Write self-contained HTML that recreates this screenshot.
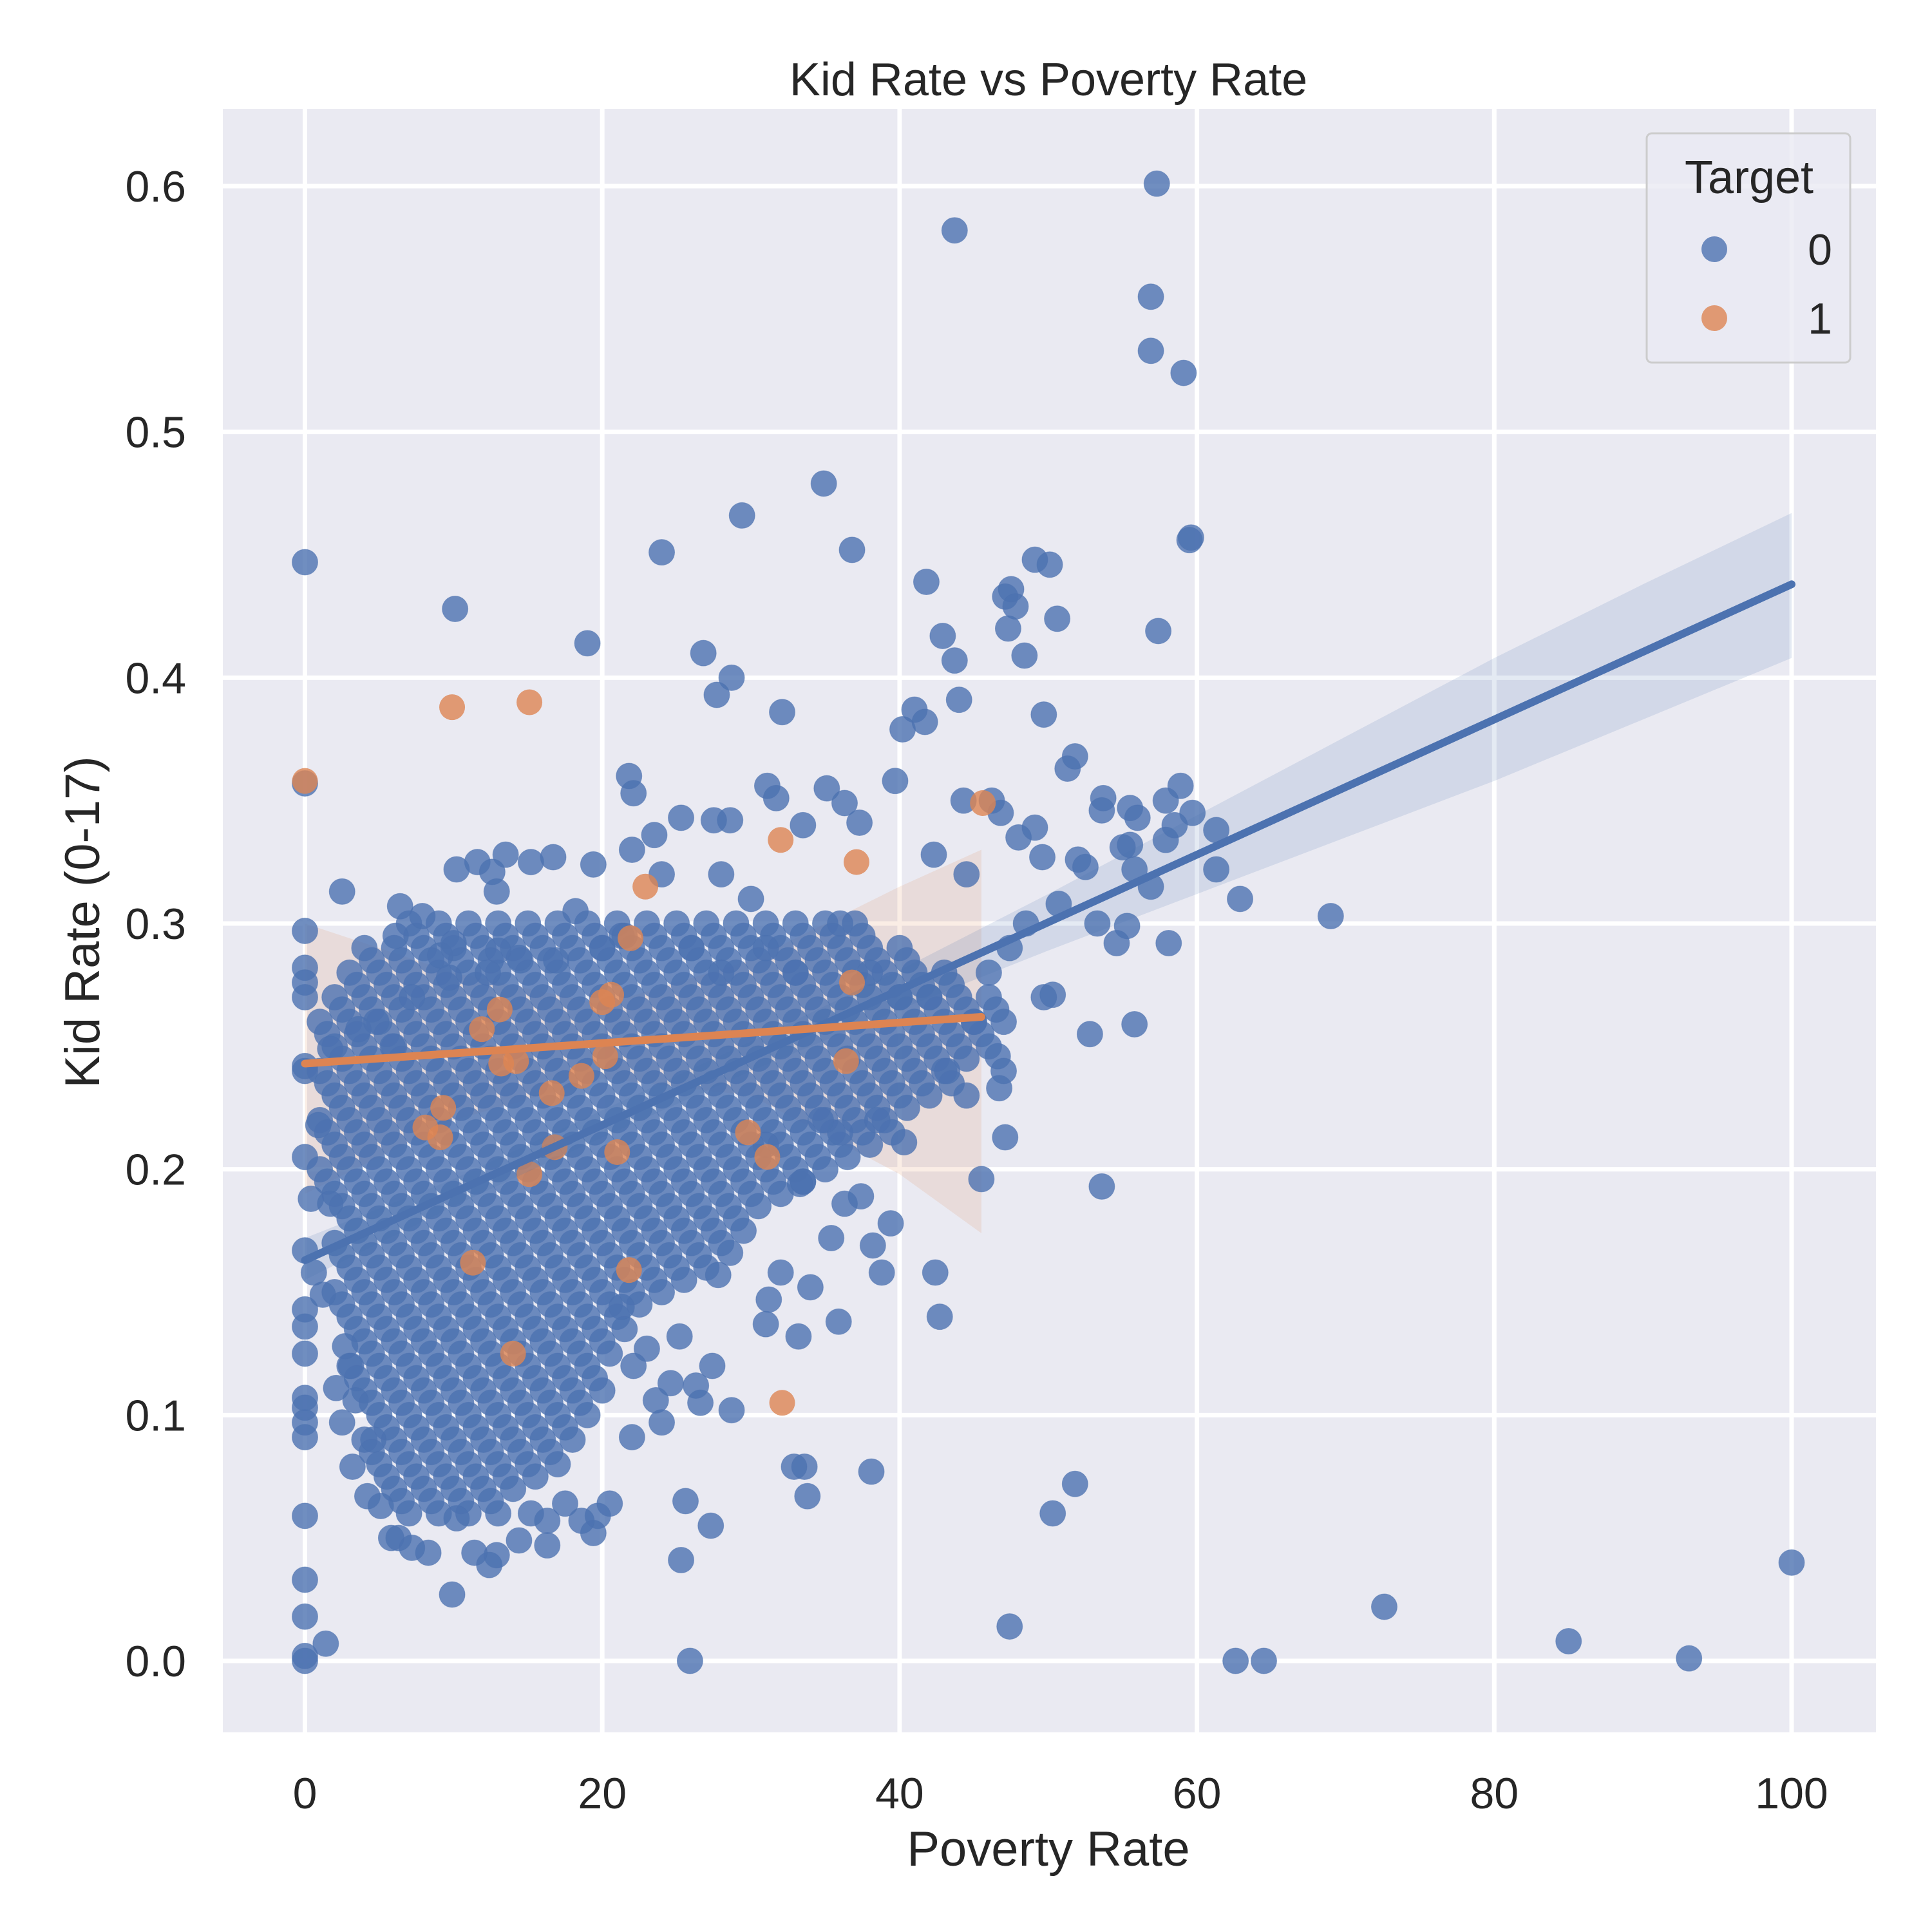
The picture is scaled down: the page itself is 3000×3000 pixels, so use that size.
<!DOCTYPE html>
<html><head><meta charset="utf-8">
<style>
html,body{margin:0;padding:0;background:#fff;}
svg{display:block;font-family:"Liberation Sans",Arial,sans-serif;}
</style></head>
<body>
<svg id="chart" width="3000" height="3000" viewBox="0 0 3000 3000" xmlns="http://www.w3.org/2000/svg">
<rect x="0" y="0" width="3000" height="3000" fill="#ffffff"/>
<rect x="346" y="169" width="2567" height="2521" fill="#eaeaf2"/>
<g id="grid"></g>
<g id="bands"></g>
<g id="pts0"></g>
<g id="pts1"></g>
<g id="lines"></g>
<g id="ticks"></g>
<text x="1628" y="148" font-size="72" fill="#262626" text-anchor="middle">Kid Rate vs Poverty Rate</text>
<text x="1628" y="2897" font-size="76" fill="#262626" text-anchor="middle">Poverty Rate</text>
<text x="0" y="0" font-size="76" fill="#262626" text-anchor="middle" transform="translate(154,1432) rotate(-90)">Kid Rate (0-17)</text>
<g>
<rect x="2557" y="207" width="316" height="356" rx="8" fill="#eaeaf2" fill-opacity="0.8" stroke="#cccccc" stroke-width="3"/>
<text x="2716" y="300" font-size="72" fill="#262626" text-anchor="middle">Target</text>
<circle cx="2662" cy="387" r="20" fill="#4c72b0" fill-opacity="0.8"/>
<text x="2845" y="411" font-size="68" fill="#262626" text-anchor="end">0</text>
<circle cx="2662" cy="494" r="20" fill="#dd8452" fill-opacity="0.8"/>
<text x="2845" y="518" font-size="68" fill="#262626" text-anchor="end">1</text>
</g>
</svg>
<script>
const xTicks = [0, 20, 40, 60, 80, 100];
const yTicks = [0.0, 0.1, 0.2, 0.3, 0.4, 0.5, 0.6];
const yTickLabels = ["0.0", "0.1", "0.2", "0.3", "0.4", "0.5", "0.6"];

// Series 0 (blue) individual points [x, y]
const series0 = [
[0,0.447],[0,0.357],[0,0.297],[0,0.282],[0,0.276],[0,0.27],[0,0.242],[0,0.24],[0,0.205],[0,0.167],[0,0.143],[0,0.136],[0,0.125],[0,0.107],[0,0.103],[0,0.097],[0,0.091],[0,0.059],[0,0.033],[0,0.018],[0,0.002],[0,0],[1.4,0.007],
[10.1,0.428],[19,0.414],[24,0.451],[29.4,0.466],[34.9,0.479],[36.8,0.452],[26.8,0.41],[28.7,0.4],[27.7,0.393],[32.1,0.386],[43.7,0.582],[57.3,0.601],[56.9,0.555],[56.9,0.533],[59.1,0.524],[59.6,0.457],[59.5,0.456],[41.8,0.439],[42.9,0.417],[43.7,0.407],[44,0.391],[41,0.387],[40.2,0.379],[41.7,0.382],[47.1,0.433],[47.5,0.436],[47.8,0.429],[49.1,0.448],[50.1,0.446],[50.6,0.424],[47.3,0.42],[48.4,0.409],[57.4,0.419],[49.7,0.385],[51.3,0.363],[51.8,0.368],[53.7,0.351],[53.6,0.346],[55.5,0.347],[56,0.343],[57.9,0.35],[58.9,0.356],[59.7,0.345],[58.5,0.34],[57.9,0.334],[61.3,0.338],[61.3,0.322],[62.9,0.31],[69,0.303],[58.1,0.292],[55.8,0.259],[52.8,0.255],[53.6,0.193],[51.8,0.072],[50.3,0.06],[47.4,0.014],[62.6,0],[64.5,0],[72.6,0.022],[85,0.008],[93.1,0.001],[100,0.04],[25.9,0],[25.3,0.041],[25.6,0.065],[27.3,0.055],[38.1,0.077],[32.9,0.079],[33.6,0.079],[33.8,0.067],[9.9,0.027],[35.9,0.138],[42.4,0.158],[42.7,0.14],[38.8,0.158],[39.4,0.178],[38.2,0.169],[37.4,0.189],[35.4,0.172],[33.3,0.194],[33.5,0.195],[34,0.152],[33.2,0.132],[36.3,0.186],[45.5,0.196],[47.1,0.213],[46.7,0.233],[46.6,0.246],[47,0.24],[49.7,0.27],[50.3,0.271],[54.6,0.292],[55.3,0.299],[53.3,0.3],[56.9,0.315],[55.8,0.322],[55,0.331],[55.5,0.332],[52,0.326],[52.5,0.323],[50.7,0.308],[49.1,0.339],[49.6,0.327],[48,0.335],[46.2,0.35],[46.8,0.345],[44.3,0.35],[39.7,0.358],[36.3,0.349],[37.3,0.341],[35.1,0.355],[33.5,0.34],[31.1,0.356],[31.7,0.351],[28.6,0.342],[27.5,0.342],[25.3,0.343],[21.8,0.36],[22.1,0.353],[23.5,0.336],[22,0.33],[19.4,0.324],[16.7,0.327],[15.2,0.325],[13.5,0.328],[11.6,0.325],[10.2,0.322],[12.6,0.321],[12.9,0.313],[7.9,0.303],[6.4,0.307],[2.5,0.313],[6.1,0.295],[10,0.292],[18.2,0.305],[24,0.32],[28,0.32],[30,0.31],[42.3,0.328],[44.5,0.32],[48.5,0.3],[47.4,0.29],[46,0.28],[43.2,0.24],[44.5,0.23],[45,0.26],[40.3,0.211],[38.5,0.22],[36,0.215],[34.7,0.22],[31,0.21],[28.6,0.166],[27.8,0.157],[27.4,0.12],[28.7,0.102],[31,0.137],[31.2,0.147],[32,0.158],[26.3,0.112],[26.6,0.105],[24.6,0.113],[23.6,0.106],[24,0.097],[22,0.091],[23,0.127],[22.1,0.12],[21.3,0.144],[25.2,0.132],[20.5,0.064],[19.7,0.059],[19.4,0.052],[18.6,0.057],[17.5,0.064],[16.3,0.057],[16.3,0.047],[15.2,0.06],[14.4,0.049],[12.9,0.043],[12.4,0.039],[11.4,0.044],[10.2,0.058],[8.3,0.044],[7.2,0.046],[5.8,0.05],[6.3,0.05],[5.1,0.063],[4.2,0.067],[3.2,0.079],[2.5,0.097],[3.4,0.106],[4.6,0.09],[2.1,0.111],[2.7,0.128],[3.1,0.12],[1.2,0.149],[0.6,0.158],[0.4,0.188],[1.7,0.186],[0.9,0.218],[1.7,0.249],[3.6,0.257],[4.8,0.26],[5.9,0.25],[7.2,0.27],[9.1,0.287],[9.7,0.278],[12.3,0.28],[14.4,0.286],[13,0.289],[16.9,0.285],[20,0.29],[21.3,0.295],[26,0.29],[28,0.28],[31,0.29],[33,0.28],[36,0.3],[38,0.28],[40,0.27],[42,0.27]
];

// Series 0 dense cluster, row by row: first value is y, rest are x values
const clusterRows = [
[0.30,7,9,11,13,15,17,19,21,23,25,27,29,31,33,35,37],
[0.29,4,6,8,10,12,14,16,18,20,22,24,26,28,30,32,34,36,38,40],
[0.28,3,5,7,9,11,13,15,17,19,21,23,25,27,29,31,33,35,37,39,41,43],
[0.27,2,4,6,8,10,12,14,16,18,20,22,24,26,28,30,32,34,36,38,40,42,44,46],
[0.26,1,3,5,7,9,11,13,15,17,19,21,23,25,27,29,31,33,35,37,39,41,43,45,47],
[0.25,2,4,6,8,10,12,14,16,18,20,22,24,26,28,30,32,34,36,38,40,42,44,46],
[0.24,1,3,5,7,9,11,13,15,17,19,21,23,25,27,29,31,33,35,37,39,41,43],
[0.23,2,4,6,8,10,12,14,16,18,20,22,24,26,28,30,32,34,36,38,40,42],
[0.22,1,3,5,7,9,11,13,15,17,19,21,23,25,27,29,31,33,35,37,39],
[0.21,2,4,6,8,10,12,14,16,18,20,22,24,26,28,30,32,34,36,38],
[0.20,1,3,5,7,9,11,13,15,17,19,21,23,25,27,29,31,33,35],
[0.19,2,4,6,8,10,12,14,16,18,20,22,24,26,28,30,32],
[0.18,3,5,7,9,11,13,15,17,19,21,23,25,27,29],
[0.17,2,4,6,8,10,12,14,16,18,20,22,24,26,28],
[0.16,3,5,7,9,11,13,15,17,19,21,23,25,27],
[0.15,2,4,6,8,10,12,14,16,18,20,22,24],
[0.14,3,5,7,9,11,13,15,17,19,21],
[0.13,4,6,8,10,12,14,16,18,20],
[0.12,3,5,7,9,11,13,15,17,19],
[0.11,4,6,8,10,12,14,16,18,20],
[0.10,5,7,9,11,13,15,17,19],
[0.09,4,6,8,10,12,14,16,18],
[0.08,5,7,9,11,13,15,17],
[0.07,6,8,10,12,14],
[0.06,7,9,11,13],
[0.295,7.5,9.5,11.5,13.5,15.5,17.5,19.5,21.5,23.5,25.5,27.5,29.5,31.5,33.5,35.5,37.5],
[0.285,4.5,6.5,8.5,10.5,12.5,14.5,16.5,18.5,20.5,22.5,24.5,26.5,28.5,30.5,32.5,34.5,36.5,38.5,40.5],
[0.275,3.5,5.5,7.5,9.5,11.5,13.5,15.5,17.5,19.5,21.5,23.5,25.5,27.5,29.5,31.5,33.5,35.5,37.5,39.5,41.5,43.5],
[0.265,2.5,4.5,6.5,8.5,10.5,12.5,14.5,16.5,18.5,20.5,22.5,24.5,26.5,28.5,30.5,32.5,34.5,36.5,38.5,40.5,42.5,44.5,46.5],
[0.255,1.5,3.5,5.5,7.5,9.5,11.5,13.5,15.5,17.5,19.5,21.5,23.5,25.5,27.5,29.5,31.5,33.5,35.5,37.5,39.5,41.5,43.5,45.5],
[0.245,2.5,4.5,6.5,8.5,10.5,12.5,14.5,16.5,18.5,20.5,22.5,24.5,26.5,28.5,30.5,32.5,34.5,36.5,38.5,40.5,42.5,44.5],
[0.235,1.5,3.5,5.5,7.5,9.5,11.5,13.5,15.5,17.5,19.5,21.5,23.5,25.5,27.5,29.5,31.5,33.5,35.5,37.5,39.5,41.5,43.5],
[0.225,2.5,4.5,6.5,8.5,10.5,12.5,14.5,16.5,18.5,20.5,22.5,24.5,26.5,28.5,30.5,32.5,34.5,36.5,38.5,40.5],
[0.215,1.5,3.5,5.5,7.5,9.5,11.5,13.5,15.5,17.5,19.5,21.5,23.5,25.5,27.5,29.5,31.5,33.5,35.5,37.5,39.5],
[0.205,2.5,4.5,6.5,8.5,10.5,12.5,14.5,16.5,18.5,20.5,22.5,24.5,26.5,28.5,30.5,32.5,34.5,36.5],
[0.195,1.5,3.5,5.5,7.5,9.5,11.5,13.5,15.5,17.5,19.5,21.5,23.5,25.5,27.5,29.5,31.5,33.5],
[0.185,2.5,4.5,6.5,8.5,10.5,12.5,14.5,16.5,18.5,20.5,22.5,24.5,26.5,28.5,30.5],
[0.175,3.5,5.5,7.5,9.5,11.5,13.5,15.5,17.5,19.5,21.5,23.5,25.5,27.5,29.5],
[0.165,2.5,4.5,6.5,8.5,10.5,12.5,14.5,16.5,18.5,20.5,22.5,24.5,26.5],
[0.155,3.5,5.5,7.5,9.5,11.5,13.5,15.5,17.5,19.5,21.5,23.5,25.5],
[0.145,2.5,4.5,6.5,8.5,10.5,12.5,14.5,16.5,18.5,20.5,22.5],
[0.135,3.5,5.5,7.5,9.5,11.5,13.5,15.5,17.5,19.5,21.5],
[0.125,4.5,6.5,8.5,10.5,12.5,14.5,16.5,18.5,20.5],
[0.115,3.5,5.5,7.5,9.5,11.5,13.5,15.5,17.5,19.5],
[0.105,4.5,6.5,8.5,10.5,12.5,14.5,16.5,18.5],
[0.095,5.5,7.5,9.5,11.5,13.5,15.5,17.5],
[0.085,4.5,6.5,8.5,10.5,12.5,14.5,16.5],
[0.075,5.5,7.5,9.5,11.5,13.5,15.5],
[0.065,6.5,8.5,10.5,12.5]
];

// Series 1 (orange) points [x, y]
const series1 = [
[0,0.358],[9.9,0.388],[15.1,0.39],[45.6,0.349],[32,0.334],[37.1,0.325],[22.9,0.315],[21.9,0.294],[36.8,0.276],[20.6,0.271],[20,0.268],[13.1,0.265],[11.9,0.257],[13.2,0.243],[14.2,0.244],[20.2,0.246],[18.6,0.238],[36.4,0.244],[16.6,0.231],[9.3,0.225],[8.1,0.217],[9.1,0.213],[29.8,0.215],[31.1,0.205],[16.8,0.209],[21,0.207],[15.1,0.198],[11.3,0.162],[21.8,0.159],[14,0.125],[32.1,0.105]
];

// Regression fits: endpoints
const fit0X = [0, 100];
const fit0Y = [0.163, 0.438];
const fit1X = [0, 45.5];
const fit1Y = [0.243, 0.262];

// Confidence bands
const band0X = [0,10,20,30,40,50,60,70,80,90,100];
const band0Lo = [0.155,0.185,0.213,0.240,0.265,0.289,0.312,0.335,0.358,0.383,0.408];
const band0Hi = [0.172,0.196,0.224,0.252,0.281,0.312,0.344,0.376,0.408,0.438,0.467];
const band1X = [0,10,20,30,40,45.5];
const band1Lo = [0.190,0.220,0.237,0.230,0.198,0.174];
const band1Hi = [0.300,0.280,0.267,0.285,0.315,0.330];

const X0 = 473.5, X1 = 2782, Y0 = 2579, Y1 = 289;
function sx(v){ return X0 + (X1 - X0) * v / 100; }
function sy(v){ return Y0 + (Y1 - Y0) * v / 0.6; }
const NS = "http://www.w3.org/2000/svg";
function mk(tag, parent, attrs){
  const el = document.createElementNS(NS, tag);
  for (const k in attrs) el.setAttribute(k, attrs[k]);
  parent.appendChild(el);
  return el;
}

const grid = document.getElementById('grid');
const ticks = document.getElementById('ticks');
xTicks.forEach(t => {
  const l = mk('line', grid, {x1: sx(t), x2: sx(t), y1: 169, y2: 2690, stroke: '#ffffff', 'stroke-width': 7});
  
  
  const tx = mk('text', ticks, {x: sx(t), y: 2808, 'font-size': 68, fill: '#262626', 'text-anchor': 'middle'});
  tx.textContent = String(t);
  
  
});
yTicks.forEach((t, i) => {
  const l = mk('line', grid, {x1: 346, x2: 2913, y1: sy(t), y2: sy(t), stroke: '#ffffff', 'stroke-width': 7});
  
  
  const tx = mk('text', ticks, {x: 289, y: sy(t) + 24, 'font-size': 68, fill: '#262626', 'text-anchor': 'end'});
  tx.textContent = yTickLabels[i];
  
  
});

const p0 = document.getElementById('pts0');
function dot0(x, y){
  const c = mk('circle', p0, {cx: sx(x), cy: sy(y), r: 20, fill: '#4c72b0', 'fill-opacity': 0.8, stroke: '#4c72b0', 'stroke-opacity': 0.5, 'stroke-width': 1});
  
  
}
clusterRows.forEach(r => { for (let i = 1; i < r.length; i++) dot0(r[i], r[0]); });
series0.forEach(p => dot0(p[0], p[1]));

const bands = document.getElementById('bands');
function band(xs, lo, hi, color, name){
  let d = '';
  xs.forEach((x, i) => { d += (i ? 'L' : 'M') + sx(x) + ',' + sy(hi[i]); });
  for (let i = xs.length - 1; i >= 0; i--) d += 'L' + sx(xs[i]) + ',' + sy(lo[i]);
  const p = mk('path', bands, {d: d + 'Z', fill: color, 'fill-opacity': 0.15});
  
  
}
band(band1X, band1Lo, band1Hi, '#dd8452', 'ci-band-target-1');

const p1 = document.getElementById('pts1');
series1.forEach(p => {
  const c = mk('circle', p1, {cx: sx(p[0]), cy: sy(p[1]), r: 20, fill: '#dd8452', 'fill-opacity': 0.8});
  
  
});

const lines = document.getElementById('lines');
band(band0X, band0Lo, band0Hi, '#4c72b0', 'ci-band-target-0');
lines.appendChild(bands.lastChild);
const l0 = mk('line', lines, {x1: sx(fit0X[0]), y1: sy(fit0Y[0]), x2: sx(fit0X[1]), y2: sy(fit0Y[1]), stroke: '#4c72b0', 'stroke-width': 12, 'stroke-linecap': 'round'});


const l1 = mk('line', lines, {x1: sx(fit1X[0]), y1: sy(fit1Y[0]), x2: sx(fit1X[1]), y2: sy(fit1Y[1]), stroke: '#dd8452', 'stroke-width': 12, 'stroke-linecap': 'round'});


</script>
</body></html>
